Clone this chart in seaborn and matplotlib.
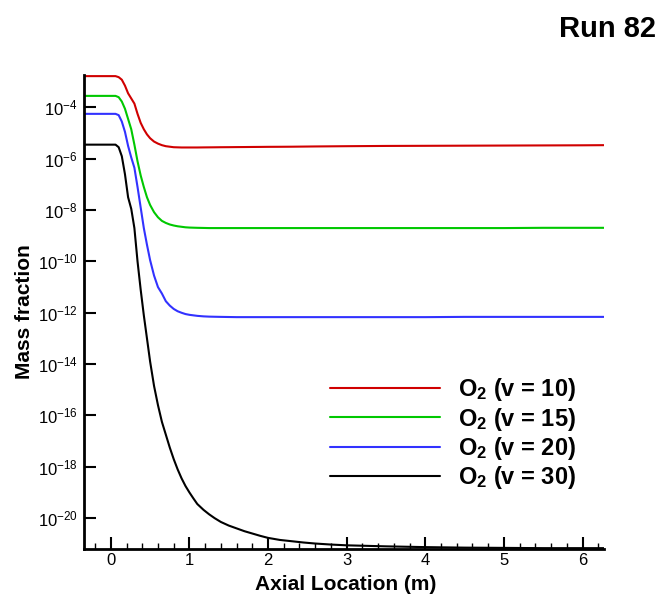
import numpy as np
import pandas as pd
import seaborn as sns
import matplotlib
matplotlib.use('Agg')
import matplotlib.pyplot as plt
from matplotlib.ticker import MultipleLocator, NullLocator, FixedLocator
from matplotlib.lines import Line2D

# Posición axial (m) y exponentes log10 de la fracción másica
axial = [-0.34, 0.0, 0.06, 0.10, 0.14, 0.18, 0.22, 0.26, 0.30, 0.34, 0.38,
         0.42, 0.46, 0.50, 0.55, 0.60, 0.65, 0.70, 0.75, 0.80, 0.85, 0.90,
         0.95, 1.0, 1.05, 1.1, 1.18, 1.25, 1.32, 1.4, 1.5, 1.6, 1.7, 1.8,
         1.9, 2.0, 2.15, 2.3, 2.45, 2.6, 2.8, 3.0, 3.5, 4.0, 4.5, 5.0, 5.5,
         6.0, 6.27]

log_v10 = [-2.78, -2.78, -2.78, -2.82, -2.92, -3.15, -3.45, -3.65, -3.85,
           -4.25, -4.6, -4.85, -5.05, -5.2, -5.33, -5.41, -5.47, -5.51,
           -5.53, -5.55, -5.555, -5.56, -5.56, -5.56, -5.56, -5.56, -5.557,
           -5.555, -5.553, -5.55, -5.548, -5.545, -5.543, -5.54, -5.538,
           -5.535, -5.533, -5.53, -5.525, -5.52, -5.515, -5.51, -5.50,
           -5.495, -5.49, -5.485, -5.48, -5.475, -5.47]

log_v15 = [-3.55, -3.55, -3.55, -3.6, -3.77, -4.05, -4.45, -4.85, -5.45,
           -6.1, -6.65, -7.1, -7.5, -7.8, -8.08, -8.28, -8.42, -8.5, -8.56,
           -8.6, -8.63, -8.65, -8.67, -8.68, -8.685, -8.69, -8.695, -8.70,
           -8.70, -8.70, -8.70, -8.70, -8.70, -8.70, -8.70, -8.70, -8.70,
           -8.70, -8.70, -8.70, -8.70, -8.70, -8.70, -8.70, -8.70, -8.70,
           -8.69, -8.69, -8.69]

log_v20 = [-4.25, -4.25, -4.25, -4.3, -4.55, -4.95, -5.5, -5.95, -6.35,
           -7.1, -7.9, -8.7, -9.35, -9.95, -10.55, -11.0, -11.25, -11.55,
           -11.72, -11.85, -11.94, -12.0, -12.05, -12.08, -12.1, -12.12,
           -12.14, -12.15, -12.155, -12.16, -12.165, -12.17, -12.17, -12.17,
           -12.17, -12.17, -12.17, -12.17, -12.17, -12.17, -12.17, -12.17,
           -12.17, -12.17, -12.16, -12.16, -12.16, -12.16, -12.16]

log_v30 = [-5.45, -5.45, -5.45, -5.55, -5.9, -6.6, -7.5, -7.95, -8.7, -10.0,
           -11.1, -12.1, -13.0, -13.9, -14.85, -15.6, -16.25, -16.75, -17.25,
           -17.7, -18.1, -18.45, -18.75, -19.0, -19.23, -19.45, -19.68,
           -19.85, -20.0, -20.15, -20.29, -20.4, -20.51, -20.6, -20.69,
           -20.77, -20.85, -20.9, -20.95, -20.99, -21.03, -21.06, -21.1,
           -21.13, -21.15, -21.16, -21.17, -21.17, -21.17]

etiquetas = [r'$\mathbf{O_2}$ (v = 10)', r'$\mathbf{O_2}$ (v = 15)',
             r'$\mathbf{O_2}$ (v = 20)', r'$\mathbf{O_2}$ (v = 30)']
colores = ['#d00000', '#00c800', '#3232ff', '#000000']
series = [log_v10, log_v15, log_v20, log_v30]

yticks = [1e-4, 1e-6, 1e-8, 1e-10, 1e-12, 1e-14, 1e-16, 1e-18, 1e-20]
xticks = [0, 1, 2, 3, 4, 5, 6]

# Tabla larga para seaborn
frames = []
for lab, s in zip(etiquetas, series):
    frames.append(pd.DataFrame({'x': axial,
                                'y': np.power(10.0, np.array(s)),
                                'serie': lab}))
df = pd.concat(frames, ignore_index=True)

sns.set_style('ticks')
plt.rcParams['font.family'] = ['Liberation Sans', 'DejaVu Sans']
plt.rcParams['mathtext.fontset'] = 'custom'
plt.rcParams['mathtext.rm'] = 'Liberation Sans'
plt.rcParams['mathtext.bf'] = 'Liberation Sans:bold'
plt.rcParams['mathtext.it'] = 'Liberation Sans:italic'
plt.rcParams['axes.unicode_minus'] = False
for k in ['text.color', 'axes.labelcolor', 'xtick.color', 'ytick.color',
          'axes.edgecolor']:
    plt.rcParams[k] = 'black'

fig = plt.figure(figsize=(6.62, 5.96), dpi=100)
ax = fig.add_axes([0.127, 0.079, 0.785, 0.795])

sns.lineplot(data=df, x='x', y='y', hue='serie', palette=colores,
             hue_order=etiquetas, estimator=None, sort=False,
             linewidth=1.5, legend=False, ax=ax)

ax.set_yscale('log')
ax.set_xlim(-0.34, 6.27)
ax.set_ylim(10 ** -21.2, 10 ** -2.74)

ax.yaxis.set_major_locator(FixedLocator(yticks))
ax.yaxis.set_minor_locator(NullLocator())
ax.xaxis.set_major_locator(FixedLocator(xticks))
ax.xaxis.set_minor_locator(MultipleLocator(0.2))

ax.tick_params(axis='both', which='major', direction='in', length=8.5,
               width=1.5, labelsize=12, left=True, bottom=True)
ax.tick_params(axis='x', which='minor', direction='in', length=4.5,
               width=1.0, bottom=True)
ax.tick_params(axis='x', which='major', pad=3)
ax.tick_params(axis='y', which='major', pad=4.5)

for side in ['top', 'right']:
    ax.spines[side].set_visible(False)
for side in ['left', 'bottom']:
    ax.spines[side].set_linewidth(2)

ax.set_xlabel('Axial Location (m)', fontsize=15, fontweight='bold')
ax.set_ylabel('Mass fraction', fontsize=15, fontweight='bold')
ax.xaxis.set_label_coords(0.504, -0.054)
ax.yaxis.set_label_coords(-0.097, 0.5)

handles = [Line2D([], [], color=c, linewidth=1.5) for c in colores]
leg = ax.legend(handles, etiquetas, loc='center left',
                bbox_to_anchor=(0.4735, 0.243), frameon=False,
                prop={'size': 17, 'weight': 'bold'},
                handlelength=4.65, handletextpad=0.78, labelspacing=0.105,
                borderpad=0, borderaxespad=0)

fig.text(0.991, 1 - 37 / 596, 'Run 82', ha='right', va='baseline',
         fontsize=21, fontweight='bold')

fig.savefig('out.png', dpi=100)
plt.close(fig)
